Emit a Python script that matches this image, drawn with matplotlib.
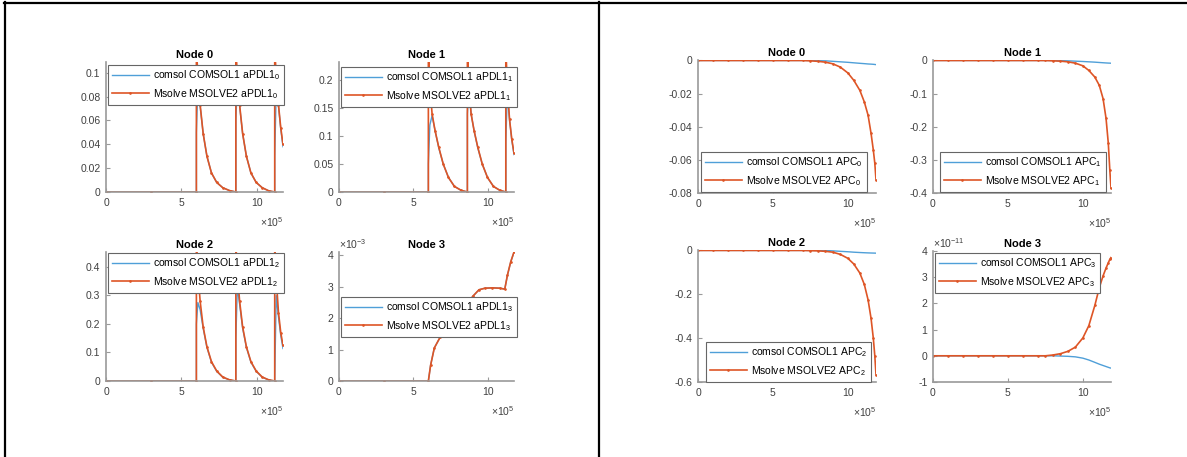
import matplotlib.pyplot as plt
from matplotlib.lines import Line2D

plt.rcParams['font.family'] = ['Liberation Sans', 'DejaVu Sans']
plt.rcParams['mathtext.fontset'] = 'custom'
plt.rcParams['mathtext.rm'] = 'Liberation Sans'
plt.rcParams['mathtext.it'] = 'Liberation Sans:italic'
plt.rcParams['mathtext.bf'] = 'Liberation Sans:bold'
plt.rcParams['axes.unicode_minus'] = False

# ---- left block: aPDL1 per node ----
x_pdl = [0, 3.0e5, 6.0e5, 6.0e5, 6.1e5, 6.25e5, 6.45e5, 6.7e5, 7.0e5, 7.35e5, 7.75e5, 8.2e5,
         8.62e5, 8.62e5, 8.72e5, 8.87e5, 9.07e5, 9.32e5, 9.62e5, 9.97e5, 10.37e5, 10.8e5,
         11.2e5, 11.2e5, 11.3e5, 11.45e5, 11.6e5, 11.75e5]

pdl0_msolve = [0, 0, 0, 0.12, 0.098, 0.073, 0.049, 0.030, 0.016, 0.008, 0.0036, 0.0012,
               0, 0.12, 0.098, 0.073, 0.049, 0.030, 0.016, 0.008, 0.0036, 0.001,
               0, 0.12, 0.098, 0.073, 0.054, 0.040]
pdl0_comsol = [0, 0, 0, 0.05, 0.088, 0.072, 0.049, 0.030, 0.016, 0.008, 0.0036, 0.0012,
               0, 0.06, 0.09, 0.072, 0.049, 0.030, 0.016, 0.008, 0.0036, 0.001,
               0, 0.03, 0.085, 0.072, 0.053, 0.038]

pdl1_msolve = [0, 0, 0, 0.26, 0.19, 0.14, 0.11, 0.08, 0.05, 0.026, 0.01, 0.003,
               0, 0.26, 0.19, 0.14, 0.11, 0.08, 0.05, 0.026, 0.01, 0.003,
               0, 0.26, 0.19, 0.13, 0.095, 0.07]
pdl1_comsol = [0, 0, 0, 0.05, 0.12, 0.137, 0.11, 0.079, 0.05, 0.026, 0.01, 0.003,
               0, 0.14, 0.185, 0.14, 0.11, 0.079, 0.05, 0.026, 0.01, 0.003,
               0, 0.09, 0.175, 0.13, 0.093, 0.067]

pdl2_msolve = [0, 0, 0, 0.48, 0.38, 0.28, 0.19, 0.12, 0.068, 0.035, 0.014, 0.004,
               0, 0.48, 0.38, 0.28, 0.19, 0.12, 0.068, 0.035, 0.014, 0.004,
               0, 0.48, 0.36, 0.24, 0.17, 0.125]
pdl2_comsol = [0, 0, 0, 0.2, 0.275, 0.25, 0.185, 0.118, 0.066, 0.034, 0.013, 0.004,
               0, 0.15, 0.33, 0.27, 0.185, 0.118, 0.066, 0.034, 0.013, 0.004,
               0, 0.01, 0.3, 0.225, 0.16, 0.114]

x_pdl3 = [0, 3.0e5, 6.0e5, 6.15e5, 6.4e5, 6.8e5, 7.2e5, 7.7e5, 8.2e5, 8.6e5, 9.0e5, 9.4e5,
          9.8e5, 10.3e5, 10.8e5, 11.13e5, 11.31e5, 11.53e5, 11.75e5]
pdl3_msolve = [0, 0, 0, 0.5e-3, 1.05e-3, 1.4e-3, 1.6e-3, 1.85e-3, 2.15e-3, 2.45e-3, 2.7e-3,
               2.9e-3, 2.95e-3, 2.96e-3, 2.95e-3, 2.92e-3, 3.37e-3, 3.79e-3, 4.1e-3]
pdl3_comsol = [0, 0, 0, 0.5e-3, 1.05e-3, 1.4e-3, 1.6e-3, 1.85e-3, 2.15e-3, 2.45e-3, 2.7e-3,
               2.9e-3, 2.95e-3, 2.96e-3, 2.95e-3, 2.92e-3, 3.36e-3, 3.78e-3, 4.09e-3]

# ---- right block: APC per node ----
x_apc = [0, 1e5, 2e5, 3e5, 4e5, 5e5, 6e5, 7e5, 7.5e5, 8e5, 8.5e5, 9e5, 9.5e5, 10e5,
         10.4e5, 10.8e5, 11.1e5, 11.35e5, 11.55e5, 11.7e5, 11.8e5, 11.88e5]

apc0_msolve = [0, 0, 0, 0, 0, 0, 0, 0, -0.0002, -0.0005, -0.001, -0.002, -0.004, -0.0075,
               -0.012, -0.018, -0.025, -0.033, -0.044, -0.054, -0.062, -0.072]
apc0_comsol = [0, 0, 0, 0, 0, 0, 0, 0, 0, -0.0001, -0.0002, -0.0005, -0.0008, -0.0011,
               -0.0014, -0.0017, -0.0019, -0.0021, -0.0022, -0.0023, -0.0024, -0.0025]

apc1_msolve = [0, 0, 0, 0, 0, 0, 0, 0, 0, -0.001, -0.002, -0.004, -0.008, -0.016,
               -0.03, -0.05, -0.075, -0.115, -0.175, -0.25, -0.33, -0.385]
apc1_comsol = [0, 0, 0, 0, 0, 0, 0, 0, 0, 0, -0.0005, -0.001, -0.002, -0.003,
               -0.004, -0.005, -0.006, -0.0068, -0.0074, -0.0078, -0.008, -0.0082]

apc2_msolve = [0, 0, 0, 0, 0, 0, 0, 0, -0.001, -0.002, -0.004, -0.008, -0.018, -0.036,
               -0.062, -0.103, -0.155, -0.225, -0.31, -0.4, -0.48, -0.567]
apc2_comsol = [0, 0, 0, 0, 0, 0, 0, 0, 0, 0, 0, -0.002, -0.004, -0.006,
               -0.008, -0.0095, -0.0105, -0.0112, -0.0117, -0.012, -0.0122, -0.0124]

apc3_msolve = [0, 0, 0, 0, 0, 0, 0, 0, 0, 0.03e-11, 0.08e-11, 0.17e-11, 0.33e-11, 0.68e-11,
               1.15e-11, 1.92e-11, 2.6e-11, 3.05e-11, 3.35e-11, 3.55e-11, 3.68e-11, 3.75e-11]
apc3_comsol = [0, 0, 0, 0, 0, 0, 0, 0, 0, 0, -0.01e-11, -0.02e-11, -0.04e-11, -0.09e-11,
               -0.16e-11, -0.25e-11, -0.32e-11, -0.37e-11, -0.41e-11, -0.44e-11, -0.46e-11, -0.47e-11]

BLUE = '#4f9fd8'
ORANGE = '#de5526'
GREY = '#9a9a9a'
TXT = '#404040'
FS = 7.5

W, H = 1187, 457
fig = plt.figure(figsize=(W / 100, H / 100), dpi=100)


def node_plot(box, x, yc, ym, name, i, ylim, yticks, yticklabels, xmax, leg_at, yexp=None):
    l, t, r, b = box
    ax = fig.add_axes([l / W, 1 - b / H, (r - l) / W, (b - t) / H])
    ax.plot(x, yc, color=BLUE, lw=1.0, label='comsol COMSOL1 ' + name + '$_{%d}$' % i)
    ax.plot(x, ym, color=ORANGE, lw=1.2, marker='.', ms=1.8,
            label='Msolve MSOLVE2 ' + name + '$_{%d}$' % i)
    ax.set_xlim(0, xmax)
    ax.set_ylim(*ylim)
    ax.set_xticks([0, 5e5, 10e5])
    ax.set_xticklabels(['0', '5', '10'])
    ax.set_yticks(yticks)
    ax.set_yticklabels(yticklabels)
    for s in ['top', 'right']:
        ax.spines[s].set_visible(False)
    for s in ['left', 'bottom']:
        ax.spines[s].set_color(GREY)
        ax.spines[s].set_linewidth(1.2)
    ax.tick_params(direction='in', length=3, width=0.8, color=GREY,
                   labelcolor=TXT, labelsize=FS, pad=4)
    ax.set_title('Node %d' % i, fontsize=8, fontweight='bold', pad=3)
    ax.annotate(r'$\times10^{5}$', xy=(1, 0), xycoords='axes fraction', xytext=(0, -22),
                textcoords='offset points', ha='right', va='center', fontsize=FS, color=TXT)
    if yexp:
        ax.annotate(yexp, xy=(0, 1), xycoords='axes fraction', xytext=(0, 6),
                    textcoords='offset points', ha='left', va='center', fontsize=FS, color=TXT)
    leg = ax.legend(loc='upper left', bbox_to_anchor=(leg_at[0] / W, 1 - leg_at[1] / H),
                    bbox_transform=fig.transFigure, fontsize=FS, fancybox=False,
                    edgecolor='#666666', framealpha=1, borderpad=0.35, handlelength=3.6,
                    handletextpad=0.4, labelspacing=0.45, borderaxespad=0, numpoints=1)
    leg.get_frame().set_linewidth(0.8)
    return ax


xl = 11.75e5
xr = 11.88e5
node_plot((106, 62, 283, 192), x_pdl, pdl0_comsol, pdl0_msolve, 'aPDL1', 0, (0, 0.109),
          [0, 0.02, 0.04, 0.06, 0.08, 0.1], ['0', '0.02', '0.04', '0.06', '0.08', '0.1'], xl, (108, 65))
node_plot((339, 62, 514, 192), x_pdl, pdl1_comsol, pdl1_msolve, 'aPDL1', 1, (0, 0.233),
          [0, 0.05, 0.1, 0.15, 0.2], ['0', '0.05', '0.1', '0.15', '0.2'], xl, (341, 67))
node_plot((106, 252, 283, 381), x_pdl, pdl2_comsol, pdl2_msolve, 'aPDL1', 2, (0, 0.4525),
          [0, 0.1, 0.2, 0.3, 0.4], ['0', '0.1', '0.2', '0.3', '0.4'], xl, (108, 253))
node_plot((339, 252, 514, 381), x_pdl3, pdl3_comsol, pdl3_msolve, 'aPDL1', 3, (0, 4.1e-3),
          [0, 1e-3, 2e-3, 3e-3, 4e-3], ['0', '1', '2', '3', '4'], xl, (341, 297),
          yexp=r'$\times10^{-3}$')

node_plot((698, 60, 876, 193), x_apc, apc0_comsol, apc0_msolve, 'APC', 0, (-0.08, 0.0003),
          [-0.08, -0.06, -0.04, -0.02, 0], ['-0.08', '-0.06', '-0.04', '-0.02', '0'], xr, (701, 152))
node_plot((933, 60, 1111, 193), x_apc, apc1_comsol, apc1_msolve, 'APC', 1, (-0.4, 0.0015),
          [-0.4, -0.3, -0.2, -0.1, 0], ['-0.4', '-0.3', '-0.2', '-0.1', '0'], xr, (940, 152))
node_plot((698, 250, 876, 382), x_apc, apc2_comsol, apc2_msolve, 'APC', 2, (-0.6, 0.002),
          [-0.6, -0.4, -0.2, 0], ['-0.6', '-0.4', '-0.2', '0'], xr, (706, 342))
node_plot((933, 251, 1111, 382), x_apc, apc3_comsol, apc3_msolve, 'APC', 3, (-1e-11, 4e-11),
          [-1e-11, 0, 1e-11, 2e-11, 3e-11, 4e-11], ['-1', '0', '1', '2', '3', '4'], xr, (935, 253),
          yexp=r'$\times10^{-11}$')

# table-like frame lines
for xs, ys in [((4, 1187), (3, 3)), ((5, 5), (2, 457)), ((599, 599), (2, 457))]:
    fig.add_artist(Line2D([xs[0] / W, xs[1] / W], [1 - ys[0] / H, 1 - ys[1] / H],
                          transform=fig.transFigure, color='black', lw=1.6))

fig.savefig('out.png', dpi=100)
